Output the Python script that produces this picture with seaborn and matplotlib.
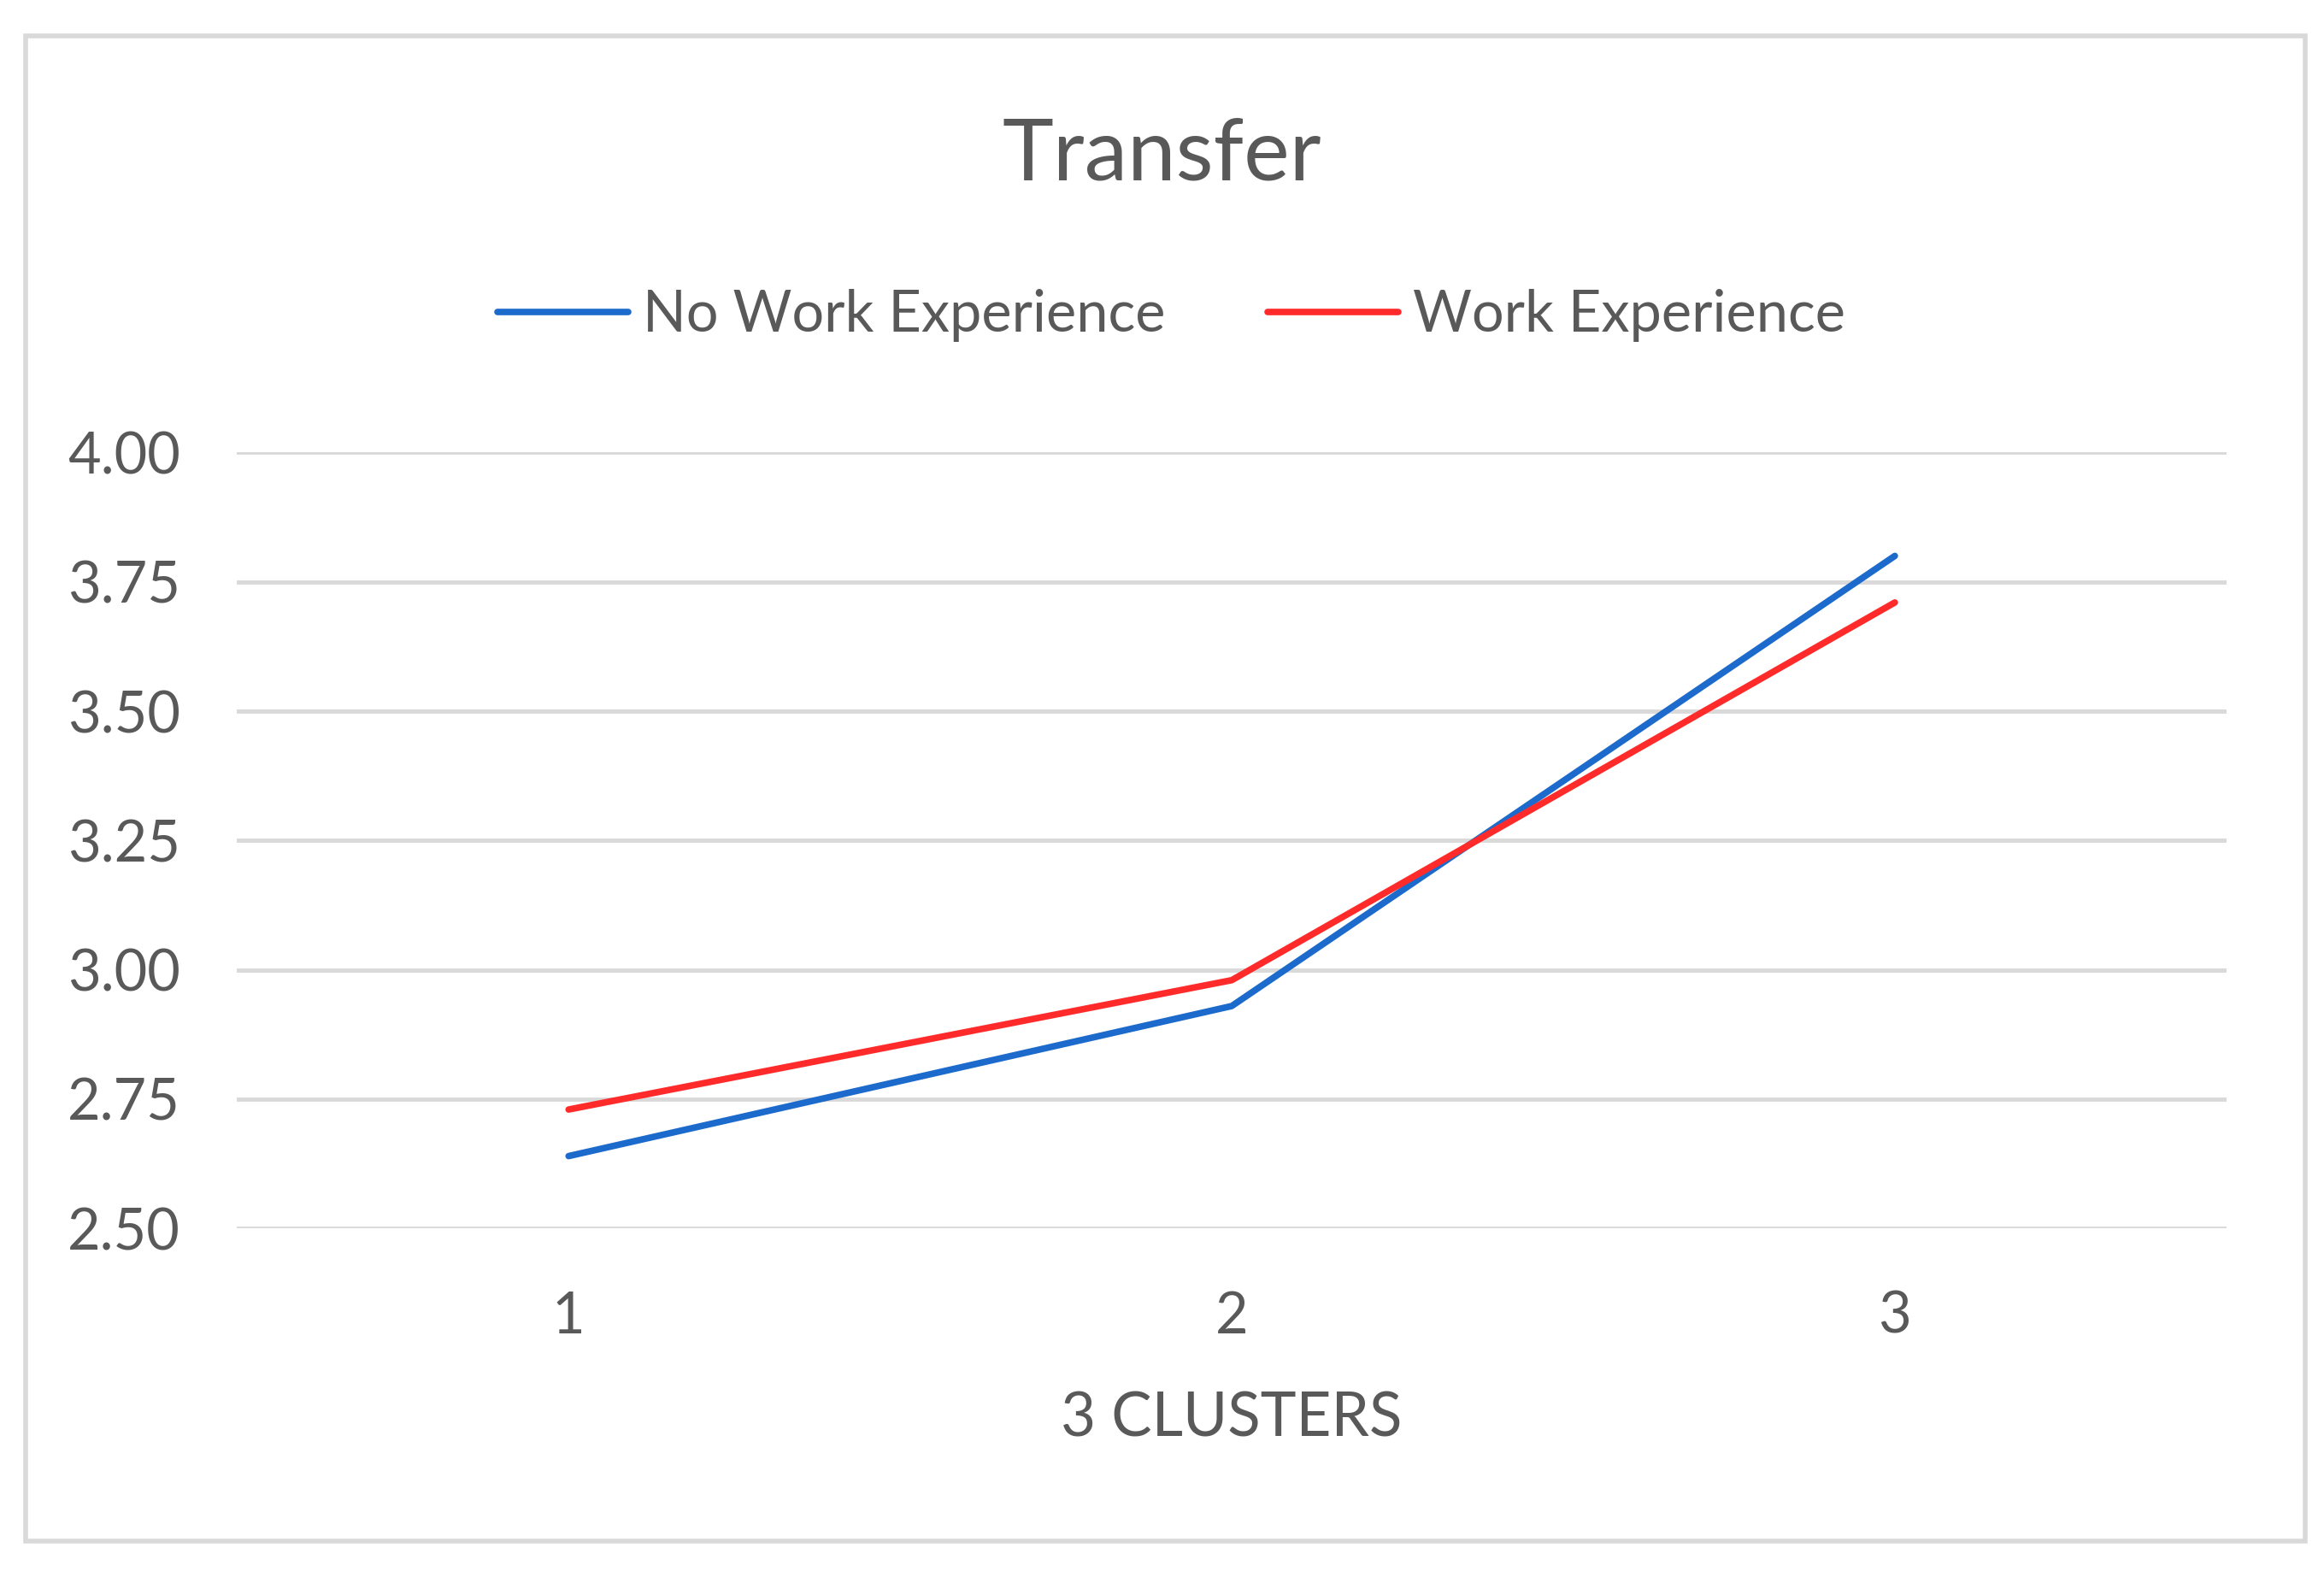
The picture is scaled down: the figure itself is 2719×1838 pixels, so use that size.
import matplotlib
matplotlib.use("Agg")
import matplotlib.pyplot as plt
from matplotlib.patches import Rectangle
import seaborn as sns
import pandas as pd

# data
clusters = [1, 2, 3]
no_work = [2.64, 2.93, 3.80]
work = [2.73, 2.98, 3.71]
series_names = ["No Work Experience", "Work Experience"]
y_ticks = [2.50, 2.75, 3.00, 3.25, 3.50, 3.75, 4.00]

df = pd.DataFrame({
    "cluster": clusters * 2,
    "value": no_work + work,
    "group": [series_names[0]] * 3 + [series_names[1]] * 3,
})

sns.set_style("white")
plt.rcParams["font.family"] = ["Lato", "DejaVu Sans"]
text_col = "#595959"

fig = plt.figure(figsize=(27.19, 18.38), dpi=100)
ax = fig.add_axes([0.102, 0.218, 0.856, 0.494])

sns.lineplot(data=df, x="cluster", y="value", hue="group",
             palette={series_names[0]: "#1c6acb", series_names[1]: "#ff2b2b"},
             linewidth=5.5, ax=ax, legend=True)

ax.set_xlim(0.5, 3.5)
ax.set_ylim(2.5, 4.0)
ax.set_xticks(clusters)
ax.set_xticklabels([str(c) for c in clusters])
ax.set_yticks(y_ticks)
ax.set_yticklabels([f"{v:.2f}" for v in y_ticks])
ax.yaxis.grid(True, color="#d9d9d9", linewidth=3.5)
ax.set_axisbelow(True)
for s in ax.spines.values():
    s.set_visible(False)
ax.tick_params(axis="both", length=0, labelsize=48, colors=text_col)
ax.tick_params(axis="y", pad=48)
ax.tick_params(axis="x", pad=52)
ax.set_ylabel("")
ax.set_xlabel("3 CLUSTERS", fontsize=51, color=text_col, labelpad=40)

ax.legend(loc="center", bbox_to_anchor=(0.504, 0.799), bbox_transform=fig.transFigure,
          ncol=2, frameon=False, fontsize=48, handlelength=2.3, handletextpad=0.25,
          columnspacing=1.8, labelcolor=text_col)

fig.text(0.5, 0.901, "Transfer", ha="center", va="center", fontsize=73, color=text_col)

# outer chart border
fig.patches.append(Rectangle((0.011, 0.019), 0.981, 0.958, transform=fig.transFigure,
                             fill=False, edgecolor="#d9d9d9", linewidth=4))

fig.savefig("out.png", dpi=100, facecolor="white")
